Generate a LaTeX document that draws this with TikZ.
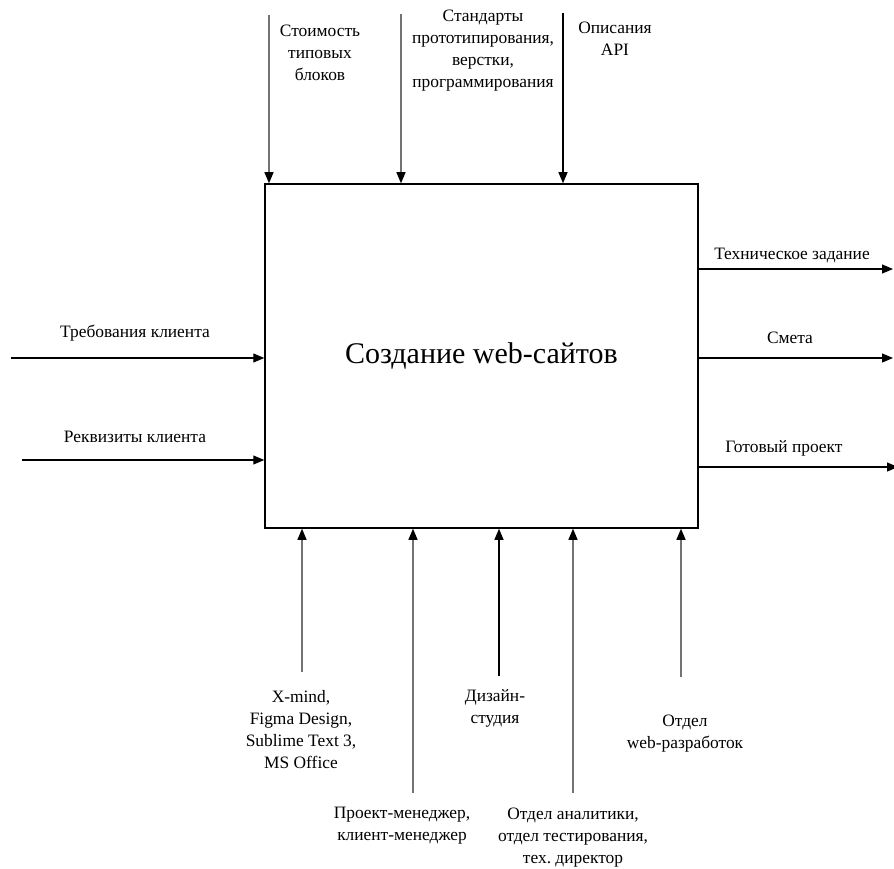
\documentclass[tikz,border=0pt]{standalone}
\usepackage{fontspec}
\setmainfont{Liberation Serif}
\newfontfamily\tnr{Liberation Serif}
\usetikzlibrary{arrows.meta}
\frenchspacing
\begin{document}
\begin{tikzpicture}[x=1pt,y=-1pt,
  arr/.style={line width=1.2pt,-{Triangle[length=11pt,width=9pt]}},
  grayarr/.style={arr,draw=black!55,-{Triangle[length=11pt,width=9pt,fill=black,color=black]}},
  lbl/.style={inner sep=0pt,align=center,font=\tnr\frenchspacing\fontsize{17.4}{22}\selectfont},
  mainbox/.style={draw,line width=1.5pt,minimum width=433pt,minimum height=344pt,inner sep=0pt,font=\tnr\fontsize{30}{34}\selectfont}]
\useasboundingbox (0,0) rectangle (894,869);
\node[mainbox] (box) at (481.5,356) {Создание web-сайтов};

% top controls
\coordinate (t1) at (269,15);
\coordinate (t2) at (401,14);
\coordinate (t3) at (563,13);
\draw[grayarr] (t1) -- (t1 |- box.north);
\draw[grayarr] (t2) -- (t2 |- box.north);
\draw[arr] (t3) -- (t3 |- box.north);
\node[lbl] (lt1) at (320,53) {Стоимость\\типовых\\блоков};
\node[lbl] (lt2) at (483,51) {Стандарты\\прототипирования,\\верстки,\\программирования};
\node[lbl] (lt3) at (615,39) {Описания\\API};

% inputs
\coordinate (i1) at (11,358);
\coordinate (i2) at (22,460);
\draw[arr] (i1) -- (i1 -| box.west);
\draw[arr] (i2) -- (i2 -| box.west);
\node[lbl] (li1) at (135,333) {Требования клиента};
\node[lbl] (li2) at (135,437) {Реквизиты клиента};

% outputs
\coordinate (o1) at (893,269);
\coordinate (o2) at (893,358);
\coordinate (o3) at (898,467);
\draw[arr] (o1 -| box.east) -- (o1);
\draw[arr] (o2 -| box.east) -- (o2);
\draw[arr] (o3 -| box.east) -- (o3);
\node[lbl] (lo1) at (792,255) {Техническое задание};
\node[lbl] (lo2) at (790,338) {Смета};
\node[lbl] (lo3) at (784,448) {Готовый проект};

% mechanisms
\coordinate (m1) at (302,672);
\coordinate (m2) at (413,793);
\coordinate (m3) at (499,676);
\coordinate (m4) at (573,793);
\coordinate (m5) at (681,677);
\draw[grayarr] (m1) -- (m1 |- box.south);
\draw[grayarr] (m2) -- (m2 |- box.south);
\draw[arr] (m3) -- (m3 |- box.south);
\draw[grayarr] (m4) -- (m4 |- box.south);
\draw[grayarr] (m5) -- (m5 |- box.south);
\node[lbl] (lm1) at (301,730) {X-mind,\\Figma Design,\\Sublime Text 3,\\MS Office};
\node[lbl] (lm2) at (402,826) {Проект-менеджер,\\клиент-менеджер};
\node[lbl] (lm3) at (495,708) {Дизайн-\\студия};
\node[lbl] (lm4) at (573,838) {Отдел аналитики,\\отдел тестирования,\\тех. директор};
\node[lbl] (lm5) at (685,734) {Отдел\\web-разработок};
\end{tikzpicture}
\end{document}
